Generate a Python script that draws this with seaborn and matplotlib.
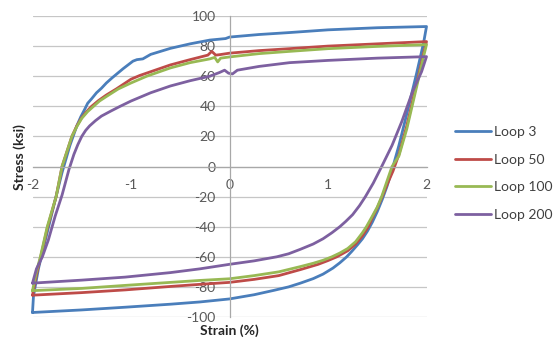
import matplotlib
matplotlib.use("Agg")
import matplotlib.pyplot as plt
import numpy as np
import pandas as pd
import seaborn as sns

# Cyclic stress-strain hysteresis loops (upper branch left->right, then lower branch right->left)
loops = ["Loop 3", "Loop 50", "Loop 100", "Loop 200"]

loop3_up_x = [-2.00, -1.99, -1.94, -1.87, -1.78, -1.70, -1.62, -1.55, -1.51, -1.47, -1.44, -1.40,
              -1.35, -1.30, -1.25, -1.19, -1.08, -0.98, -0.94, -0.88, -0.80, -0.60, -0.40, -0.20,
              -0.04, 0.00, 0.30, 0.61, 1.00, 1.50, 2.00]
loop3_up_y = [-97, -86, -68, -49, -25, -4, 14, 27, 33, 38, 42, 45,
              49, 52, 55.5, 59, 65, 70, 71, 71.5, 74.5, 78.5, 81.5, 84,
              85, 86, 87.7, 89, 90.8, 92.2, 93]
loop3_dn_x = [2.00, 1.97, 1.90, 1.80, 1.72, 1.66, 1.60, 1.55, 1.50, 1.45, 1.40, 1.35, 1.30, 1.24,
              1.19, 1.12, 1.05, 0.95, 0.85, 0.72, 0.60, 0.45, 0.25, 0.00, -0.30, -0.60, -1.06,
              -1.50, -2.00]
loop3_dn_y = [93, 82, 62, 35, 14, 0, -13, -22, -30, -37, -43, -48, -52, -56.5,
              -60, -64, -67.5, -71.5, -74.5, -77.5, -80, -82.3, -85.2, -88, -90, -91.5, -93.5,
              -95.3, -97]

loop50_up_x = [-2.00, -1.96, -1.92, -1.85, -1.76, -1.70, -1.60, -1.55, -1.50, -1.45, -1.40, -1.33,
               -1.25, -1.15, -1.00, -0.91, -0.60, -0.40, -0.22, -0.18, -0.14, -0.10, 0.00, 0.30,
               0.61, 1.00, 1.50, 2.00]
loop50_up_y = [-85.5, -72, -61, -41, -20, 0, 20, 27, 32.5, 36.5, 40, 43.8,
               47.5, 51.5, 58, 60.5, 67.5, 71, 74, 76.5, 74, 74.3, 75.3, 77,
               78.3, 80, 81.5, 83]
loop50_dn_x = [2.00, 1.97, 1.90, 1.80, 1.72, 1.66, 1.60, 1.55, 1.50, 1.45, 1.41, 1.35, 1.28, 1.20,
               1.09, 1.00, 0.90, 0.72, 0.50, 0.25, 0.00, -0.30, -0.60, -1.06, -1.50, -2.00]
loop50_dn_y = [83, 75, 55, 27, 8, -3, -12, -20, -27.5, -34, -40, -46, -51.5, -56,
               -60, -62.5, -65, -68.5, -72.5, -75, -77, -78.3, -79.7, -82, -83.8, -85.5]

loop100_up_x = [-2.00, -1.96, -1.92, -1.85, -1.76, -1.70, -1.60, -1.55, -1.50, -1.44, -1.38, -1.32,
                -1.25, -1.13, -1.00, -0.84, -0.60, -0.40, -0.20, -0.15, -0.12, -0.09, 0.00, 0.30,
                0.61, 1.00, 1.50, 2.00]
loop100_up_y = [-82.5, -70, -60, -40, -20, 0, 20, 26.5, 32, 36.5, 40, 43.5,
                46.5, 51.5, 55.5, 60, 65.5, 69, 71.5, 72.5, 69.5, 72, 72.8, 75,
                76.5, 78.3, 79.8, 81]
loop100_dn_x = [2.00, 1.97, 1.90, 1.80, 1.72, 1.65, 1.60, 1.545, 1.50, 1.45, 1.39, 1.35, 1.28,
                1.20, 1.12, 1.04, 0.95, 0.85, 0.72, 0.50, 0.25, 0.00, -0.30, -0.60, -1.06, -1.50,
                -2.00]
loop100_dn_y = [81, 73, 53, 25, 7, 0, -9.5, -20, -27, -33, -40, -44, -50,
                -54.5, -57.5, -60, -62.3, -64.3, -66.5, -70, -72.5, -74.6, -75.7, -77, -79, -81,
                -82.5]

loop200_up_x = [-2.00, -1.96, -1.90, -1.84, -1.77, -1.70, -1.63, -1.58, -1.54, -1.50, -1.46, -1.42,
                -1.36, -1.30, -1.20, -1.11, -1.00, -0.80, -0.60, -0.40, -0.20, -0.10, -0.05, -0.01,
                0.03, 0.08, 0.30, 0.61, 1.00, 1.50, 2.00]
loop200_up_y = [-77.5, -68, -60, -49, -33, -19, -2, 8, 14.5, 20, 24, 27,
                30.5, 33.5, 37, 40, 43.5, 49, 53.5, 57, 60, 62.5, 64, 62,
                61.5, 64, 66.5, 69, 70.5, 72, 73]
loop200_dn_x = [2.00, 1.95, 1.86, 1.75, 1.65, 1.545, 1.46, 1.38, 1.32, 1.25, 1.18, 1.12, 1.04,
                0.95, 0.85, 0.72, 0.60, 0.48, 0.25, 0.00, -0.30, -0.60, -1.06, -1.50, -2.00]
loop200_dn_y = [73, 63, 50, 30, 14, 0, -11, -20, -26, -32, -36.5, -40, -44,
                -48, -51.5, -55, -58, -60, -62.7, -65, -68, -70.5, -73.5, -75.5, -77.5]

branches = {
    "Loop 3": (loop3_up_x + loop3_dn_x, loop3_up_y + loop3_dn_y),
    "Loop 50": (loop50_up_x + loop50_dn_x, loop50_up_y + loop50_dn_y),
    "Loop 100": (loop100_up_x + loop100_dn_x, loop100_up_y + loop100_dn_y),
    "Loop 200": (loop200_up_x + loop200_dn_x, loop200_up_y + loop200_dn_y),
}

frames = []
for name in loops:
    xs, ys = branches[name]
    frames.append(pd.DataFrame({"strain": xs, "stress": ys, "loop": name,
                                "step": np.arange(len(xs))}))
df = pd.concat(frames, ignore_index=True)

colors = ["#4A7EBB", "#BE4B48", "#98B954", "#7D60A0"]

sns.set_theme(style="white")
plt.rcParams["font.family"] = ["Lato", "DejaVu Sans"]
plt.rcParams["axes.unicode_minus"] = False

fig = plt.figure(figsize=(5.57, 3.41), dpi=100)
ax = fig.add_axes([32.5 / 557, 24 / 341, 394 / 557, 301 / 341])

sns.lineplot(data=df, x="strain", y="stress", hue="loop", hue_order=loops,
             palette=colors, sort=False, estimator=None, units="loop",
             linewidth=2.0, ax=ax)
for ln in ax.lines:
    ln.set_clip_on(False)
    ln.set_solid_joinstyle("round")

ax.set_xlim(-2, 2)
ax.set_ylim(-100, 100)
ax.set_xticks([-2, -1, 0, 1, 2])
ax.set_yticks(range(-100, 101, 20))
ax.yaxis.grid(True, color="#C6C6C6", linewidth=0.9)
ax.xaxis.grid(False)
ax.set_axisbelow(True)

for side in ["top", "right"]:
    ax.spines[side].set_visible(False)
ax.spines["left"].set_position(("data", 0))
ax.spines["bottom"].set_position(("data", 0))
for side in ["left", "bottom"]:
    ax.spines[side].set_color("#A8A8A8")
    ax.spines[side].set_linewidth(0.9)

ax.tick_params(axis="x", direction="in", length=4, width=0.9, color="#A8A8A8",
               pad=9, labelsize=10, labelcolor="#595959")
ax.tick_params(axis="y", length=0, pad=10, labelsize=10, labelcolor="#595959")

ax.set_xlabel("Strain (%)", fontsize=10, fontweight="bold", color="#262626")
ax.xaxis.set_label_coords(0.5, -0.047)
ax.xaxis.label.set_va("center")
ax.set_ylabel("Stress (ksi)", fontsize=10, fontweight="bold", color="#262626")
ax.yaxis.set_label_coords(-0.032, 0.532)
ax.yaxis.label.set_va("center")

handles, labels = ax.get_legend_handles_labels()
leg = ax.legend(handles, labels, loc="center left",
                bbox_to_anchor=(455 / 557, 0.491), bbox_transform=fig.transFigure,
                frameon=False, fontsize=10, handlelength=2.6, handletextpad=0.2,
                labelspacing=1.12, borderpad=0, borderaxespad=0)
for t in leg.get_texts():
    t.set_color("#404040")
for h in leg.get_lines():
    h.set_linewidth(2.0)

fig.savefig("out.png", dpi=100)
